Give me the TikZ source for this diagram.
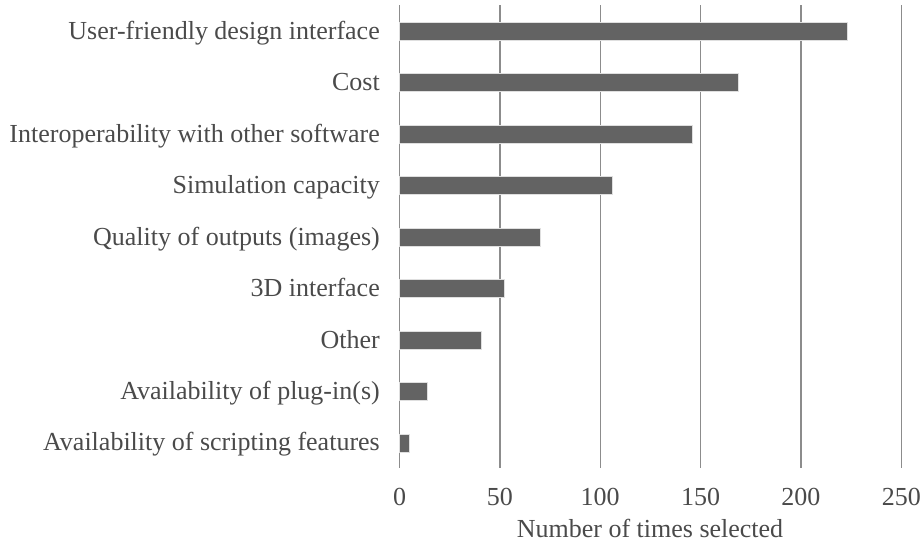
\documentclass[tikz,border=0pt]{standalone}
\usepackage{fontspec}
\setmainfont{Liberation Serif}
\definecolor{barfill}{HTML}{636363}
\definecolor{gridc}{HTML}{8C8C8C}
\definecolor{txt}{HTML}{4A4A4A}
\tikzset{
  gridline/.style={draw=gridc, line width=1.3pt},
  barbox/.style={fill=barfill, draw=white!75!gray, line width=0.6pt},
  catlabel/.style={anchor=base east, text=txt, font=\fontsize{26}{30}\selectfont, inner sep=0pt},
  ticklabel/.style={anchor=base, text=txt, font=\fontsize{26}{30}\selectfont, inner sep=0pt},
}
\begin{document}
\begin{tikzpicture}[x=1pt,y=-1pt]
\useasboundingbox (0,0) rectangle (921,541);
\foreach \i in {0,...,5} {
  \coordinate (gt\i) at ({399.5+100.35*\i},5);
  \coordinate (gb\i) at ({399.5+100.35*\i},468);
  \draw[gridline] (gt\i) -- (gb\i);
  \pgfmathtruncatemacro{\val}{50*\i}
  \node[ticklabel] (tick\i) at ({399.5+100.35*\i},505) {\val};
}
\foreach \v/\lab [count=\i from 0] in {
  223/{User-friendly design interface},
  169/{Cost},
  146/{Interoperability with other software},
  106/{Simulation capacity},
  70/{Quality of outputs (images)},
  52/{3D interface},
  41/{Other},
  14/{Availability of plug-in(s)},
  5/{Availability of scripting features}} {
  \pgfmathsetmacro{\yc}{31.3+51.45*\i}
  \fill[barbox] (399.5,\yc-9) rectangle ({399.5+2.007*\v},\yc+9);
  \node[inner sep=0pt] (bar\i) at ({399.5+1.0035*\v},\yc) {};
  \node[catlabel] (lab\i) at (380,\yc+8) {\lab};
}
\node[ticklabel] (title) at (650,537) {Number of times selected};
\end{tikzpicture}
\end{document}
